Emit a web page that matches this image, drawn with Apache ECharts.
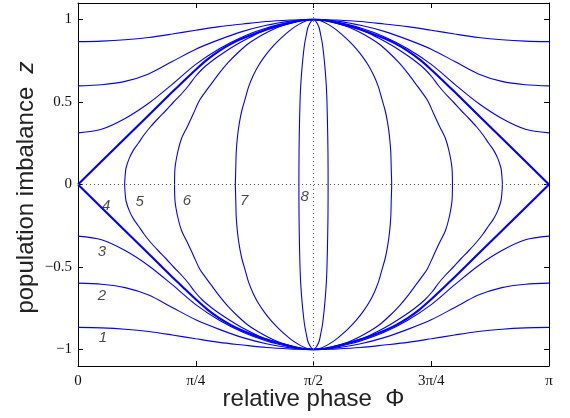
<!DOCTYPE html>
<html>
<head>
<meta charset="utf-8">
<script src="https://cdn.jsdelivr.net/npm/echarts@6/dist/echarts.min.js"></script>
<style>
  html, body { margin: 0; padding: 0; background: #fff; }
  #chart { width: 570px; height: 418px; }
</style>
</head>
<body>
<div id="chart"></div>
<script>
// ---- data (Φ in units of π, z = population imbalance) ----
const xTickValues = [0, 0.25, 0.5, 0.75, 1];
const xTickLabels = ['0', 'π/4', 'π/2', '3π/4', 'π'];
const yTickValues = [-1, -0.5, 0, 0.5, 1];
const yTickLabels = ['−1', '−0.5', '0', '0.5', '1'];

// running (open) trajectories, read over 0 ≤ Φ ≤ π/2 (upper branch)
const phiRun = [0, 0.05, 0.1, 0.15, 0.2, 0.25, 0.3, 0.35, 0.4, 0.45, 0.475, 0.5];
const zRun1 = [0.866, 0.869, 0.877, 0.891, 0.912, 0.935, 0.957, 0.973, 0.988, 0.997, 0.999, 1];
const zRun2 = [0.598, 0.605, 0.625, 0.670, 0.745, 0.820, 0.878, 0.928, 0.965, 0.990, 0.997, 1];
const zRun3 = [0.313, 0.335, 0.400, 0.492, 0.607, 0.728, 0.823, 0.896, 0.948, 0.984, 0.995, 1];

// separatrix (curve 4), read over 0 ≤ Φ ≤ π/2
const phiSep = [0, 0.1, 0.2, 0.225, 0.25, 0.275, 0.3, 0.325, 0.35, 0.4, 0.45, 0.475, 0.5];
const zSep   = [0, 0.28, 0.56, 0.629, 0.696, 0.758, 0.810, 0.852, 0.886, 0.940, 0.979, 0.994, 1];

// closed orbits (curves 5-8), read in the upper-left quarter: [Φ, z] from z = 0 to z = 1
const orbit5 = [[0.099,0],[0.100,0.05],[0.102,0.10],[0.109,0.16],[0.118,0.21],[0.128,0.25],[0.140,0.30],
  [0.154,0.35],[0.170,0.40],[0.187,0.45],[0.203,0.50],[0.220,0.55],[0.235,0.60],[0.248,0.65],[0.264,0.70],
  [0.285,0.75],[0.310,0.80],[0.335,0.845],[0.360,0.885],[0.389,0.925],[0.420,0.955],[0.450,0.977],[0.475,0.994],[0.5,1]];
const orbit6 = [[0.205,0],[0.206,0.10],[0.212,0.20],[0.220,0.28],[0.232,0.35],[0.245,0.43],[0.258,0.51],
  [0.270,0.56],[0.283,0.61],[0.300,0.675],[0.319,0.74],[0.340,0.80],[0.360,0.85],[0.380,0.888],[0.405,0.927],
  [0.430,0.959],[0.460,0.985],[0.480,0.996],[0.5,1]];
const orbit7 = [[0.334,0],[0.335,0.10],[0.336,0.20],[0.339,0.30],[0.343,0.38],[0.348,0.45],[0.355,0.52],
  [0.362,0.59],[0.372,0.66],[0.383,0.72],[0.396,0.775],[0.410,0.825],[0.425,0.87],[0.440,0.91],[0.455,0.945],
  [0.470,0.972],[0.485,0.992],[0.5,1]];
const orbit8 = [[0.469,0],[0.4693,0.20],[0.4705,0.40],[0.472,0.55],[0.474,0.65],[0.477,0.75],[0.481,0.85],
  [0.485,0.91],[0.488,0.95],[0.493,0.98],[0.497,0.995],[0.5,1]];

const curveLabels = ['1', '2', '3', '4', '5', '6', '7', '8'];

// ---- build full curves using the picture's symmetry about Φ = π/2 and z = 0 ----
function running(zArr, sign) {
  const left = phiRun.map((p, i) => [p, sign * zArr[i]]);
  const right = left.slice(0, -1).reverse().map(([p, z]) => [1 - p, z]);
  return left.concat(right);
}
function sepArc(sign) {
  const left = phiSep.map((p, i) => [p, sign * zSep[i]]);
  const right = left.slice(0, -1).reverse().map(([p, z]) => [1 - p, z]);
  return left.concat(right);
}
function loop(q) {
  const ul = q.map(([p, z]) => [p, z]);
  const ur = q.slice().reverse().map(([p, z]) => [1 - p, z]).slice(1);
  const lr = q.map(([p, z]) => [1 - p, -z]).slice(1);
  const ll = q.slice().reverse().map(([p, z]) => [p, -z]).slice(1);
  return ul.concat(ur, lr, ll);
}

const BLUE = '#0000ff';
function lineSeries(data, width) {
  return {
    type: 'line', data: data, showSymbol: false, symbol: 'none', smooth: 0.3,
    lineStyle: { color: BLUE, width: width }, silent: true, z: 3
  };
}

// label anchors (layout)
const labelAnchor = [[0.053,-0.932],[0.051,-0.673],[0.051,-0.411],[0.060,-0.127],
                     [0.131,-0.106],[0.231,-0.100],[0.353,-0.096],[0.481,-0.076]];

const series = [
  {
    type: 'line', data: [], silent: true,
    markLine: {
      silent: true, symbol: 'none', label: { show: false },
      lineStyle: { color: '#555', width: 1, type: [1, 3] },
      data: [{ yAxis: 0 }, { xAxis: 0.5 }]
    }
  },
  lineSeries(running(zRun1, 1), 1.1),
  lineSeries(running(zRun2, 1), 1.1),
  lineSeries(running(zRun3, 1), 1.1),
  lineSeries(running(zRun1, -1), 1.1),
  lineSeries(running(zRun2, -1), 1.1),
  lineSeries(running(zRun3, -1), 1.1),
  lineSeries(sepArc(1), 2.1),
  lineSeries(sepArc(-1), 2.1),
  lineSeries(loop(orbit5), 1.1),
  lineSeries(loop(orbit6), 1.1),
  lineSeries(loop(orbit7), 1.1),
  lineSeries(loop(orbit8), 1.1),
  {
    type: 'scatter', symbolSize: 1, itemStyle: { color: 'rgba(0,0,0,0)' }, silent: true, z: 5,
    data: curveLabels.map((t, i) => [labelAnchor[i][0], labelAnchor[i][1], t]),
    label: {
      show: true, position: 'inside', formatter: p => p.value[2],
      fontFamily: 'Liberation Sans', fontStyle: 'italic', fontSize: 15, color: '#1a1a1a'
    }
  }
];

const serifLabel = { fontFamily: 'Liberation Serif', fontSize: 15, color: '#111' };
const frameLine = { show: true, onZero: false, lineStyle: { color: '#000', width: 1 } };
const innerTick = { show: true, inside: true, length: 5, lineStyle: { color: '#000', width: 1 } };

const option = {
  animation: false,
  backgroundColor: '#fff',
  grid: { left: 78, right: 21, top: 3, bottom: 52, containLabel: false, outerBoundsMode: 'none' },
  xAxis: [
    {
      type: 'value', min: 0, max: 1, interval: 0.25, position: 'bottom',
      axisLine: frameLine, axisTick: innerTick, splitLine: { show: false },
      axisLabel: Object.assign({ margin: 8, formatter: v => xTickLabels[xTickValues.indexOf(v)] ?? '' }, serifLabel),
      name: 'relative phase  Φ', nameLocation: 'middle', nameGap: 21, nameMoveOverlap: false,
      nameTextStyle: { fontFamily: 'Liberation Sans', fontSize: 24, color: '#222' }
    },
    {
      type: 'value', min: 0, max: 1, interval: 0.25, position: 'top',
      axisLine: frameLine, axisTick: innerTick, splitLine: { show: false }, axisLabel: { show: false }
    }
  ],
  yAxis: [
    {
      type: 'value', min: -1.1, max: 1.1, position: 'left',
      axisLine: frameLine,
      axisTick: Object.assign({ customValues: yTickValues }, innerTick),
      splitLine: { show: false },
      axisLabel: Object.assign({ margin: 6, customValues: yTickValues,
        formatter: v => yTickLabels[yTickValues.findIndex(t => Math.abs(t - v) < 1e-9)] ?? '' }, serifLabel),
      name: 'population imbalance  {b|z}', nameLocation: 'middle', nameGap: 40, nameRotate: 90,
      nameMoveOverlap: false,
      nameTextStyle: { fontFamily: 'Liberation Sans', fontSize: 24, color: '#222', padding: [0, 6, 0, 0],
        rich: { b: { fontFamily: 'Liberation Sans', fontStyle: 'italic', fontSize: 24, color: '#222' } } }
    },
    {
      type: 'value', min: -1.1, max: 1.1, position: 'right',
      axisLine: frameLine,
      axisTick: Object.assign({ customValues: yTickValues }, innerTick),
      splitLine: { show: false }, axisLabel: { show: false }
    }
  ],
  series: series
};

const chart = echarts.init(document.getElementById('chart'), null, { renderer: 'canvas' });
chart.setOption(option);
</script>
</body>
</html>
